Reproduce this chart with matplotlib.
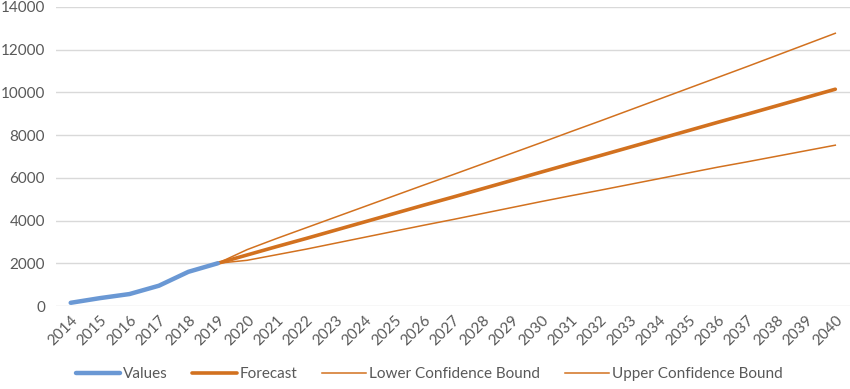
import numpy as np
import matplotlib
matplotlib.use("Agg")
from matplotlib import pyplot as plt

plt.rcParams['font.family'] = ['Lato', 'DejaVu Sans']

years = list(range(2014, 2041))
hist_years = years[:6]
hist_values = [150, 370, 560, 950, 1600, 2000]

fc_years = years[5:]
forecast = [2000, 2390, 2780, 3160, 3550, 3940, 4330, 4720, 5100, 5490, 5880,
            6270, 6660, 7040, 7430, 7820, 8210, 8600, 8980, 9370, 9760, 10150]
lower = [2000, 2140, 2400, 2660, 2940, 3220, 3500, 3780, 4050, 4330, 4610,
         4890, 5160, 5420, 5690, 5960, 6230, 6500, 6750, 7010, 7270, 7530]
upper = [2000, 2640, 3160, 3660, 4160, 4660, 5160, 5660, 6150, 6650, 7150,
         7650, 8160, 8660, 9170, 9680, 10190, 10700, 11210, 11730, 12250, 12770]

blue = '#6a98d4'
orange = '#d2711f'
txt = '#595959'

fig = plt.figure(figsize=(8.5, 3.89), dpi=100)
ax = fig.add_axes([56 / 850, 1 - 306 / 389, 794 / 850, 299 / 389])

pos = {y: i for i, y in enumerate(years)}
hx = [pos[y] for y in hist_years]
fx = [pos[y] for y in fc_years]

ax.plot(hx, hist_values, color=blue, lw=3.2, solid_capstyle='round', label='Values', zorder=4)
ax.plot(fx, forecast, color=orange, lw=2.6, solid_capstyle='round', label='Forecast', zorder=3)
ax.plot(fx, lower, color=orange, lw=1.1, label='Lower Confidence Bound', zorder=3)
ax.plot(fx, upper, color=orange, lw=1.1, label='Upper Confidence Bound', zorder=3)

ax.set_xlim(-0.5, len(years) - 0.5)
ax.set_ylim(0, 14000)
ax.set_yticks(range(0, 14001, 2000))
ax.set_xticks(range(len(years)))
ax.set_xticklabels([str(y) for y in years], rotation=45, ha='right',
                   rotation_mode='anchor')
ax.tick_params(length=0, colors=txt, labelsize=11)
ax.tick_params(axis='x', pad=5)
ax.tick_params(axis='y', pad=8)
ax.grid(axis='y', color='#d9d9d9', lw=1)
ax.set_axisbelow(True)
for s in ax.spines.values():
    s.set_visible(False)

leg = fig.legend(loc='lower center', bbox_to_anchor=(0.505, -0.015), ncol=4,
                 frameon=False, fontsize=11, handlelength=2.9, columnspacing=1.6,
                 handletextpad=0.2)
for t in leg.get_texts():
    t.set_color(txt)

fig.savefig('out.png', dpi=100)
